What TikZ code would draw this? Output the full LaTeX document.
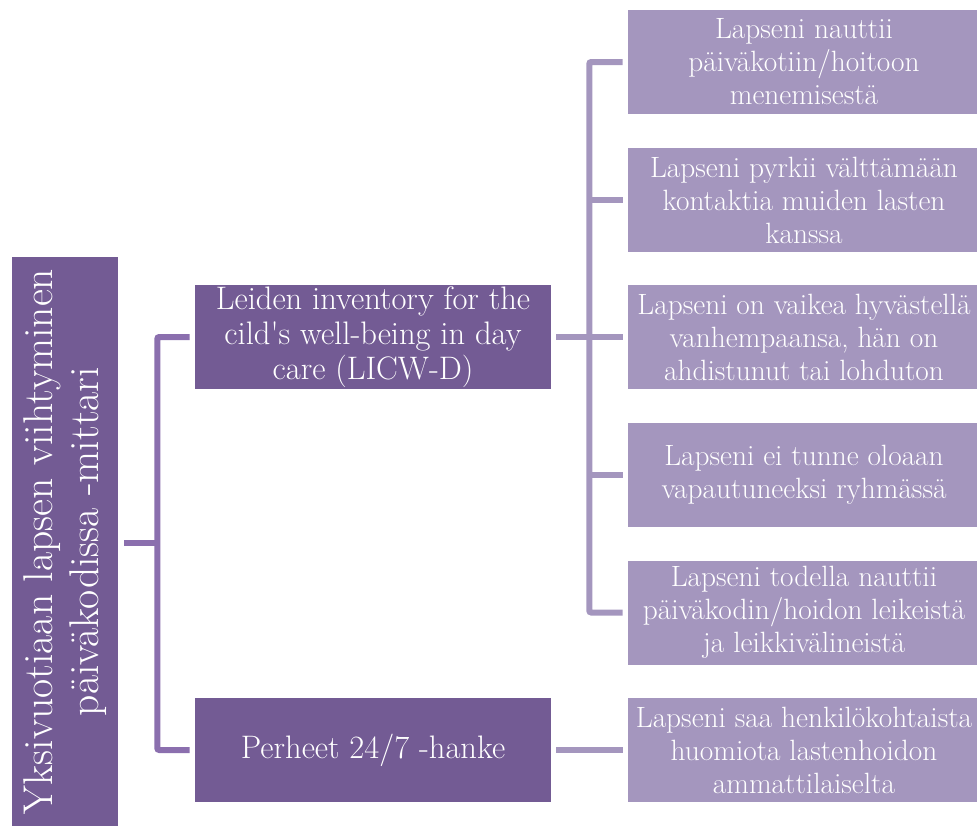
\documentclass[tikz,border=0pt]{standalone}
\usetikzlibrary{calc}

\definecolor{darkplum}{HTML}{735B94}
\definecolor{midplum}{HTML}{8B6FAE}
\definecolor{lightplum}{HTML}{A496BE}
\def\px{0.75pt}
\tikzstyle{rootbox}=[fill=darkplum,text=white,rotate=90,align=center,inner sep=0pt,
                     minimum width=569*\px,minimum height=106*\px,
                     font=\fontsize{31.2}{34}\selectfont]
\tikzstyle{groupbox}=[fill=darkplum,text=white,align=center,inner sep=0pt,
                      minimum width=356*\px,minimum height=104*\px,
                      font=\fontsize{24.4}{26.5}\selectfont]
\tikzstyle{itembox}=[fill=lightplum,text=white,align=center,inner sep=0pt,
                     minimum width=352*\px,minimum height=104*\px,
                     font=\fontsize{22}{24.75}\selectfont]
\tikzstyle{trunk}=[midplum,line width=6*\px,rounded corners=2*\px]
\tikzstyle{branch}=[lightplum,line width=6*\px,rounded corners=2*\px]

\begin{document}
\begin{tikzpicture}[x=0.75pt,y=-0.75pt]
  \useasboundingbox (0,0) rectangle (977,826);

  % root (rotated, so root.south is its right side)
  \node[rootbox] (root) at (65,541.5) {Yksivuotiaan lapsen viihtyminen\\päiväkodissa -mittari};

  % groups
  \node[groupbox] (leiden) at (373,337) {Leiden inventory for the\\cild\textquotesingle s well-being in day\\care (LICW-D)};
  \node[groupbox] (perheet) at (373,750) {Perheet 24/7 -hanke};

  % items
  \node[itembox] (q1) at (804,62) {Lapseni nauttii\\päiväkotiin/hoitoon\\menemisestä};
  \node[itembox] (q2) at (804,200) {Lapseni pyrkii välttämään\\kontaktia muiden lasten\\kanssa};
  \node[itembox] (q3) at (804,337) {Lapseni on vaikea hyvästellä\\vanhempaansa, hän on\\ahdistunut tai lohduton};
  \node[itembox] (q4) at (804,475) {Lapseni ei tunne oloaan\\vapautuneeksi ryhmässä};
  \node[itembox] (q5) at (804,612.5) {Lapseni todella nauttii\\päiväkodin/hoidon leikeistä\\ja leikkivälineistä};
  \node[itembox] (q6) at (804,750) {Lapseni saa henkilökohtaista\\huomiota lastenhoidon\\ammattilaiselta};

  % root to groups
  \coordinate (rj) at ($(root.south)+(39,1.5)$);
  \draw[trunk] ($(root.south)+(6,1.5)$) -- (rj);
  \draw[trunk] ($(leiden.west)+(-5,0)$) -| (rj) |- ($(perheet.west)+(-5,0)$);

  % leiden to items
  \coordinate (lj) at ($(leiden.east)+(38,0)$);
  \draw[branch] ($(leiden.east)+(5,0)$) -- ($(q3.west)+(-5,0)$);
  \draw[branch] ($(q1.west)+(-5,0)$) -| (lj) |- ($(q5.west)+(-5,0)$);
  \draw[branch] ($(q2.west)+(-5,0)$) -- (lj |- q2.west);
  \draw[branch] ($(q4.west)+(-5,0)$) -- (lj |- q4.west);

  % perheet to item
  \draw[branch] ($(perheet.east)+(5,0)$) -- ($(q6.west)+(-5,0)$);

\end{tikzpicture}
\end{document}
